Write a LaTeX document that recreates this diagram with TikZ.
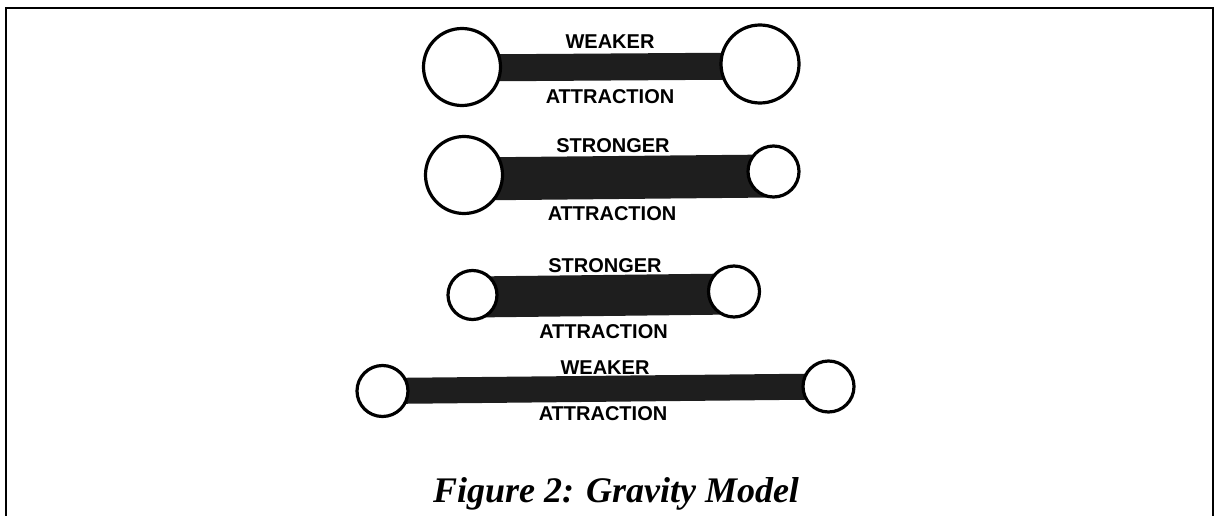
\documentclass[tikz,border=0pt]{standalone}
\usepackage{fontspec}
\setmainfont{Liberation Serif}
\setsansfont{Liberation Sans}
\usetikzlibrary{backgrounds}
\definecolor{barcol}{HTML}{1E1E1E}
\begin{document}
\begin{tikzpicture}[x=1pt,y=-1pt,
  ball/.style={circle, draw=black, line width=3.2pt, fill=white, inner sep=0pt, minimum size=#1},
  barline/.style={draw=barcol, line width=#1},
  lbl/.style={font=\sffamily\bfseries\fontsize{20}{20}\selectfont, inner sep=0pt, anchor=center},
  frameline/.style={draw=black, line width=2.5pt}
]
\useasboundingbox (0,0) rectangle (1214,516);
\draw[frameline] (6,516) -- (6,8) -- (1213,8) -- (1213,516);

% Dumbbell 1
\node[ball=77] (L1) at (462,67) {};
\node[ball=78] (R1) at (760,64) {};
\node[lbl] (t1) at (610,42) {WEAKER};
\node[lbl] (b1) at (610,97) {ATTRACTION};

% Dumbbell 2
\node[ball=77] (L2) at (464,175) {};
\node[ball=51] (R2) at (773.5,171.5) {};
\node[lbl] (t2) at (613,146) {STRONGER};
\node[lbl] (b2) at (612,214) {ATTRACTION};

% Dumbbell 3
\node[ball=49] (L3) at (472.5,295) {};
\node[ball=51] (R3) at (734,291.5) {};
\node[lbl] (t3) at (605,266) {STRONGER};
\node[lbl] (b3) at (603.5,332) {ATTRACTION};

% Dumbbell 4
\node[ball=51] (L4) at (382.5,391) {};
\node[ball=51] (R4) at (828.5,386.5) {};
\node[lbl] (t4) at (605,368) {WEAKER};
\node[lbl] (b4) at (603,414) {ATTRACTION};

\begin{scope}[on background layer]
  \draw[barline=27] ([yshift=-1pt]L1.center) -- ([yshift=-2pt]R1.center);
  \draw[barline=43] ([yshift=-4pt]L2.center) -- ([yshift=-4.5pt]R2.center);
  \draw[barline=41] ([yshift=-2pt]L3.center) -- ([yshift=-2.5pt]R3.center);
  \draw[barline=26] ([yshift=0pt]L4.center) -- ([yshift=0pt]R4.center);
\end{scope}

\node[font=\bfseries\itshape\fontsize{36}{36}\selectfont, anchor=base, inner sep=0pt] (cap) at (616,502) {Figure 2: Gravity Model};
\end{tikzpicture}
\end{document}
